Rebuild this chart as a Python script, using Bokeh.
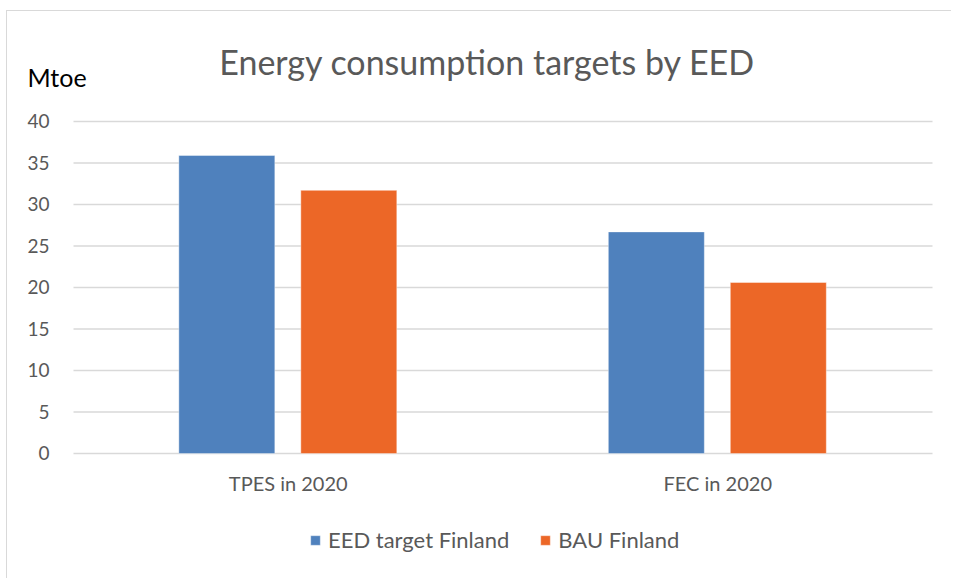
from bokeh.plotting import figure
from bokeh.models import ColumnDataSource, FactorRange, Range1d, Label, Legend, LegendItem
from bokeh.transform import dodge
from bokeh.core.properties import value
from bokeh.embed import file_html
from bokeh.resources import INLINE

categories = ["TPES in 2020", "FEC in 2020"]
eed_target = [35.9, 26.7]
bau = [31.7, 20.6]
y_ticks = [0, 5, 10, 15, 20, 25, 30, 35, 40]
series_names = ["EED target Finland", "BAU Finland"]
colors = ["#4f81bd", "#ec6727"]
title_text = "Energy consumption targets by EED"
unit_text = "Mtoe"

FONT = "Lato"
GRAY = "#595959"

W, H = 945, 568
UNIT = 429.5                       # pixels per category
PAD = (W / UNIT - 2) / 2           # factor range padding (each side)
SHIFT = 66 / UNIT - PAD            # shift so the category band starts 66px from the left


def sx(px):
    """synthetic x coordinate of a canvas pixel column"""
    return px / UNIT - PAD


src = ColumnDataSource(dict(cat=categories, eed=eed_target, bau=bau))
tick_src = ColumnDataSource(dict(y=y_ticks, lab=[str(t) for t in y_ticks],
                                 x0=[SHIFT] * len(y_ticks), x1=[2 + SHIFT] * len(y_ticks),
                                 xl=[sx(42)] * len(y_ticks)))

p = figure(x_range=FactorRange(*categories, range_padding=PAD, range_padding_units="percent"),
           y_range=Range1d(-15.18, 53.25),
           width=W, height=H, output_backend="svg", toolbar_location=None,
           x_axis_location=None, y_axis_location=None,
           min_border_left=0, min_border_right=0, min_border_top=0, min_border_bottom=0)
p.styles = {"border-top": "1px solid #d9d9d9", "border-left": "1px solid #d9d9d9",
            "margin-top": "10px", "margin-left": "6px"}
p.outline_line_color = None
p.xgrid.grid_line_color = None
p.ygrid.grid_line_color = None

# gridlines
p.segment(x0="x0", x1="x1", y0="y", y1="y", source=tick_src,
          line_color="#d9d9d9", line_width=1.6)
# y tick labels
p.text(x="xl", y="y", text="lab", source=tick_src, text_font=value(FONT),
       text_font_size="19px", text_color=GRAY, text_align="right", text_baseline="middle")

r1 = p.vbar(x=dodge("cat", -0.143 + SHIFT, range=p.x_range), top="eed", width=0.2235, source=src,
            fill_color=colors[0], line_color="#ffffff", line_alpha=0.4)
r2 = p.vbar(x=dodge("cat", 0.141 + SHIFT, range=p.x_range), top="bau", width=0.2235, source=src,
            fill_color=colors[1], line_color="#ffffff", line_alpha=0.4)

# category labels
cat_src = ColumnDataSource(dict(cat=categories, y=[-3.5] * len(categories)))
p.text(x=dodge("cat", SHIFT, range=p.x_range), y="y", text="cat", source=cat_src,
       text_font=value(FONT), text_font_size="20px", text_color=GRAY,
       text_align="center", text_baseline="middle")

p.add_layout(Label(x=sx(480), y=47.2, text=title_text,
                   text_font=FONT, text_font_size="34px", text_color=GRAY,
                   text_align="center", text_baseline="alphabetic"))
p.add_layout(Label(x=sx(20), y=45.4, text=unit_text,
                   text_font=FONT, text_font_size="25px", text_color="#000000",
                   text_align="left", text_baseline="alphabetic"))

legend = Legend(items=[LegendItem(label=series_names[0], renderers=[r1]),
                       LegendItem(label=series_names[1], renderers=[r2])],
                location=(302, 26), orientation="horizontal",
                label_text_font=FONT, label_text_font_size="22px", label_text_color=GRAY,
                glyph_width=12, glyph_height=12, label_height=20, spacing=30,
                padding=0, margin=0, label_standoff=7,
                border_line_color=None, background_fill_alpha=0)
p.add_layout(legend, "center")

open("out.html", "w").write(file_html(p, INLINE))
